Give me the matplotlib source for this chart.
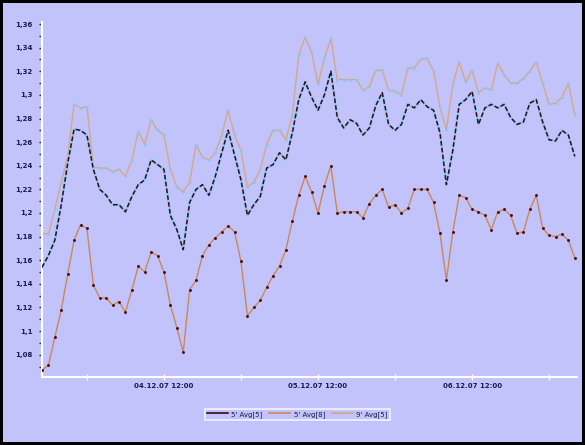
import datetime as dt
import matplotlib
matplotlib.use("Agg")
import matplotlib.pyplot as plt
import matplotlib.dates as mdates
from matplotlib.ticker import MultipleLocator, FuncFormatter

# hourly bars
start = dt.datetime(2007, 12, 3, 17, 0)
n_bars = 84
times = [start + dt.timedelta(hours=k) for k in range(n_bars)]

# dark series (middle)
avg_a = [1.154, 1.164, 1.177, 1.207, 1.242, 1.271, 1.270, 1.266, 1.237, 1.220,
         1.215, 1.207, 1.207, 1.201, 1.214, 1.224, 1.228, 1.245, 1.241, 1.237,
         1.198, 1.186, 1.169, 1.209, 1.220, 1.224, 1.215, 1.231, 1.251, 1.270,
         1.249, 1.228, 1.198, 1.207, 1.214, 1.238, 1.241, 1.251, 1.245, 1.268,
         1.296, 1.311, 1.298, 1.287, 1.300, 1.320, 1.281, 1.272, 1.279, 1.276,
         1.266, 1.272, 1.291, 1.302, 1.275, 1.270, 1.275, 1.292, 1.289, 1.296,
         1.290, 1.287, 1.268, 1.224, 1.253, 1.292, 1.296, 1.303, 1.275, 1.289,
         1.292, 1.289, 1.292, 1.281, 1.275, 1.277, 1.293, 1.296, 1.277, 1.262,
         1.261, 1.270, 1.266, 1.248]

# orange series (bottom)
avg_b = [1.067, 1.071, 1.095, 1.118, 1.148, 1.177, 1.190, 1.187, 1.139, 1.128,
         1.128, 1.122, 1.125, 1.116, 1.135, 1.155, 1.150, 1.167, 1.164, 1.150,
         1.122, 1.103, 1.082, 1.135, 1.143, 1.164, 1.173, 1.179, 1.184, 1.189,
         1.184, 1.159, 1.113, 1.120, 1.126, 1.137, 1.147, 1.155, 1.169, 1.193,
         1.215, 1.231, 1.218, 1.200, 1.223, 1.240, 1.200, 1.201, 1.201, 1.201,
         1.196, 1.208, 1.215, 1.220, 1.205, 1.207, 1.200, 1.204, 1.220, 1.220,
         1.220, 1.209, 1.183, 1.143, 1.184, 1.215, 1.213, 1.203, 1.201, 1.198,
         1.186, 1.201, 1.203, 1.198, 1.183, 1.184, 1.203, 1.215, 1.187, 1.181,
         1.180, 1.182, 1.177, 1.162]

# tan series (top)
avg_c = [1.183, 1.182, 1.203, 1.226, 1.248, 1.292, 1.289, 1.290, 1.239, 1.238,
         1.238, 1.235, 1.237, 1.231, 1.245, 1.269, 1.258, 1.279, 1.270, 1.266,
         1.237, 1.222, 1.218, 1.226, 1.258, 1.247, 1.245, 1.251, 1.266, 1.287,
         1.266, 1.253, 1.222, 1.226, 1.237, 1.258, 1.270, 1.270, 1.262, 1.283,
         1.334, 1.349, 1.336, 1.309, 1.331, 1.348, 1.313, 1.313, 1.313, 1.313,
         1.304, 1.307, 1.321, 1.321, 1.304, 1.303, 1.300, 1.323, 1.323, 1.330,
         1.331, 1.320, 1.290, 1.270, 1.309, 1.328, 1.311, 1.321, 1.302, 1.306,
         1.304, 1.327, 1.317, 1.310, 1.310, 1.314, 1.320, 1.328, 1.310, 1.292,
         1.293, 1.298, 1.310, 1.283]

labels = ["5' Avg[5]", "5' Avg[8]", "9' Avg[5]"]

bg = '#C3C3FB'
text_col = '#1A1A50'
c_dark = '#3A0A18'
c_orange = '#C8885A'
c_tan = '#D2A886'
c_blue = '#86C8F2'

fig = plt.figure(figsize=(5.85, 4.45), dpi=100, facecolor=bg,
                 edgecolor='black', linewidth=3)
ax = fig.add_axes([0.0718, 0.153, 0.914, 0.798])
ax.set_facecolor(bg)

# middle series: light blue under dark dashes
ax.plot(times, avg_a, color=c_blue, lw=1.7, zorder=3)
ax.plot(times, avg_a, color=c_dark, lw=1.1, dashes=(3, 1.5), zorder=4)
ax.plot(times, avg_b, color=c_orange, lw=1.0, marker='o', ms=1.1,
        mfc='#4A0A14', mec='#4A0A14', zorder=3)
ax.plot(times, avg_c, color=c_tan, lw=1.0, marker='o', ms=1.0,
        mfc=c_blue, mec=c_blue, zorder=2)

ax.set_xlim(times[0], start + dt.timedelta(hours=83.3))
ax.set_ylim(1.0612, 1.3619)

ax.yaxis.set_major_locator(MultipleLocator(0.02))
ax.yaxis.set_minor_locator(MultipleLocator(0.01))
ax.yaxis.set_major_formatter(FuncFormatter(
    lambda v, p: ('%.2f' % v).rstrip('0').replace('.', ',')))

ax.xaxis.set_major_locator(mdates.HourLocator(byhour=[12]))
ax.xaxis.set_minor_locator(mdates.HourLocator(byhour=[0]))
ax.xaxis.set_major_formatter(mdates.DateFormatter('%d.%m.%y %H:%M'))

for s in ['top', 'right']:
    ax.spines[s].set_visible(False)
for s in ['left', 'bottom']:
    ax.spines[s].set_color('white')
    ax.spines[s].set_linewidth(1.5)

ax.tick_params(axis='y', which='both', colors=text_col, length=2, width=1,
               labelsize=5, pad=5)
ax.tick_params(axis='x', which='both', color='white', direction='inout',
               length=5, width=1, labelsize=5, labelcolor=text_col, pad=2)
for t in ax.get_xticklabels() + ax.get_yticklabels():
    t.set_fontweight('bold')

handles = [plt.Line2D([], [], color=c, lw=1.2) for c in (c_dark, c_orange, c_tan)]
leg = fig.legend(handles, labels, loc='center', ncol=3,
                 bbox_to_anchor=(0.508, 0.069), fontsize=5, frameon=True,
                 fancybox=False, handlelength=3, columnspacing=1.0,
                 handletextpad=0.5, borderpad=0.3, labelcolor=text_col)
leg.get_frame().set_facecolor(bg)
leg.get_frame().set_edgecolor('white')
leg.get_frame().set_linewidth(1.2)

fig.savefig('out.png', dpi=100, facecolor=bg, edgecolor='black')
